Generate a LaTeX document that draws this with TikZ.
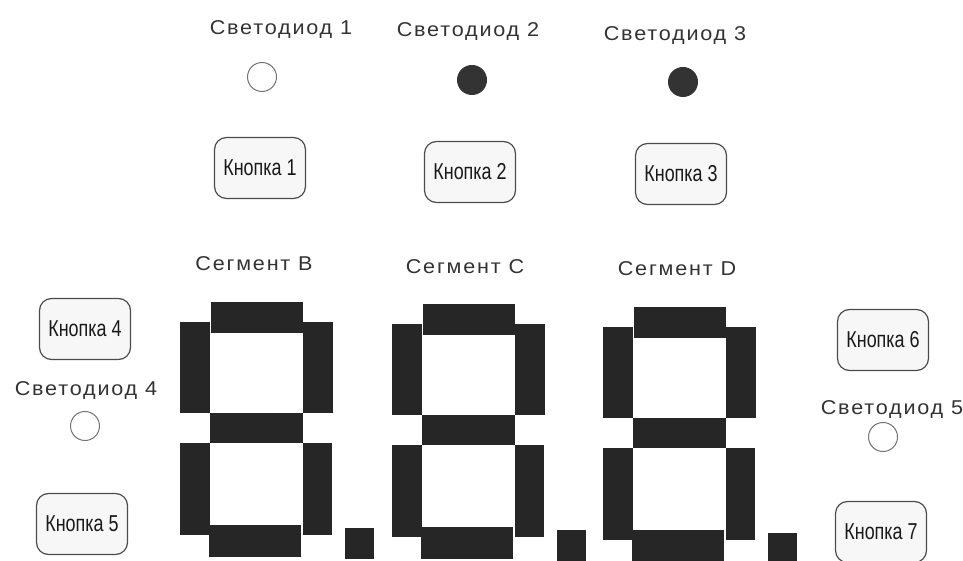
\documentclass[tikz,border=0pt]{standalone}
\usepackage{fontspec}
\setmainfont{Liberation Sans}
\newfontfamily\podpisfont[LetterSpace=9,FakeStretch=1.08]{Liberation Sans}
\newfontfamily\knopkafont[FakeStretch=0.78]{Liberation Sans}
\usepackage{xcolor}
\usepackage{tikz}
\definecolor{tekst}{HTML}{333333}
\definecolor{segm}{HTML}{262626}

\begin{document}
\begin{tikzpicture}[x=1pt, y=-1pt,
  podpis/.style={text=tekst, font=\podpisfont\fontsize{20}{22}\selectfont, inner sep=0pt, anchor=base},
  knopka/.style={draw=black!70, line width=1.2pt, rounded corners=12pt, fill=gray!6,
    minimum width=91pt, minimum height=61pt, inner sep=0pt,
    font=\knopkafont\fontsize{23}{25}\selectfont, text=black!90},
  led/.style={circle, draw=black!55, line width=1pt, minimum size=29pt, inner sep=0pt},
  ledon/.style={led, fill=black!80, draw=black!80},
  segment/.style={fill=segm}]
  \useasboundingbox[fill=white] (0,0) rectangle (963,561);

  % Верхний ряд: светодиоды
  \node[podpis] (sd1) at (281,35) {Светодиод 1};
  \node[podpis] (sd2) at (468,37) {Светодиод 2};
  \node[podpis] (sd3) at (675,41) {Светодиод 3};
  \node[led]   (led1) at (262,77) {};
  \node[ledon] (led2) at (472,80) {};
  \node[ledon] (led3) at (683,82) {};

  % Верхний ряд: кнопки
  \node[knopka] (kn1) at (260,168) {Кнопка 1};
  \node[knopka] (kn2) at (470,172) {Кнопка 2};
  \node[knopka] (kn3) at (681,174) {Кнопка 3};

  % Подписи сегментов
  \node[podpis] (segB) at (254,270) {Сегмент B};
  \node[podpis] (segC) at (465,273) {Сегмент C};
  \node[podpis] (segD) at (677,276) {Сегмент D};

  % Левая сторона
  \node[knopka] (kn4) at (85,329) {Кнопка 4};
  \node[podpis] (sd4) at (86,395) {Светодиод 4};
  \node[led]   (led4) at (85,426) {};
  \node[knopka] (kn5) at (82,524) {Кнопка 5};

  % Правая сторона
  \node[knopka] (kn6) at (883,340) {Кнопка 6};
  \node[podpis] (sd5) at (892,414) {Светодиод 5};
  \node[led]   (led5) at (883,437) {};
  \node[knopka] (kn7) at (881,532) {Кнопка 7};

  % Семисегментные индикаторы с точкой
  \foreach \x/\y in {180/302, 392/304, 603/307}{
    \begin{scope}[shift={(\x,\y)}]
      \fill[segment] (31,0) rectangle (123,31);     % верх
      \fill[segment] (0,20) rectangle (30,111);     % левый верхний
      \fill[segment] (123,20) rectangle (153,111);  % правый верхний
      \fill[segment] (30,111) rectangle (123,141);  % середина
      \fill[segment] (0,141) rectangle (30,233);    % левый нижний
      \fill[segment] (123,141) rectangle (152,233); % правый нижний
      \fill[segment] (29,223) rectangle (121,255);  % низ
      \fill[segment] (165,226) rectangle (194,257); % точка
    \end{scope}
  }
\end{tikzpicture}
\end{document}
